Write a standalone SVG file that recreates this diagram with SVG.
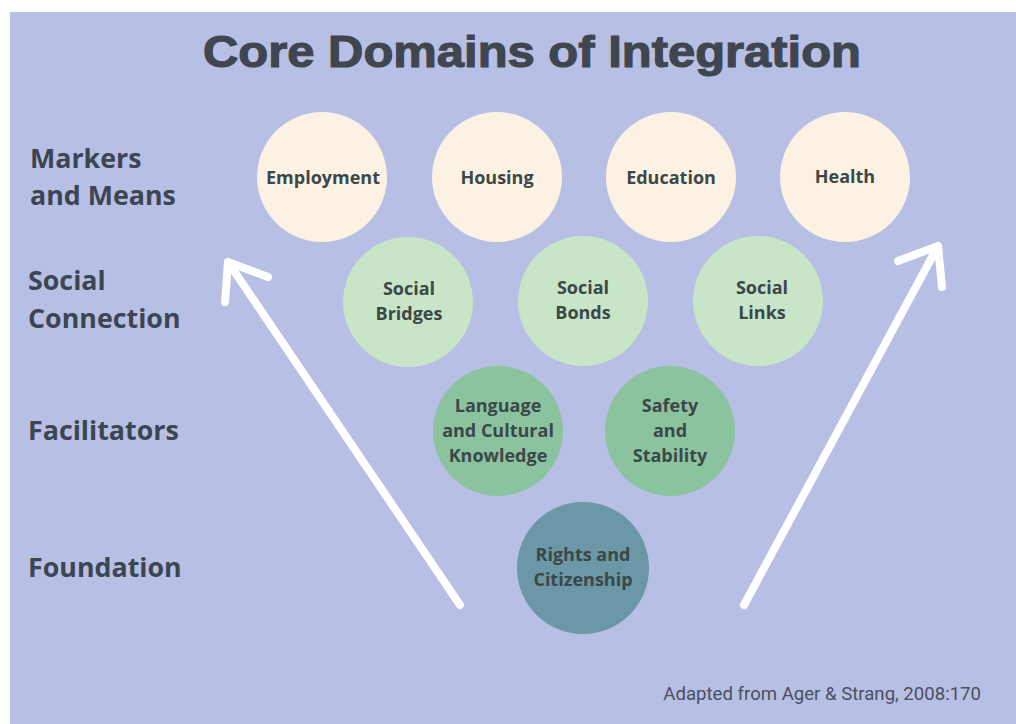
<svg xmlns="http://www.w3.org/2000/svg" width="1016" height="724" viewBox="0 0 1016 724">
  <defs>
    <style>
      .title { font-family: "Liberation Sans", Arial, sans-serif; font-weight: 700; font-size: 45px; fill: #40464f; stroke: #40464f; stroke-width: 1.2px; }
      .row { font-family: "Open Sans", "Noto Sans", sans-serif; font-weight: 700; font-size: 26.8px; fill: #3c4552; }
      .lbl { font-family: "Open Sans", "Noto Sans", sans-serif; font-weight: 700; font-size: 18px; fill: #3b4848; text-anchor: middle; }
      .note { font-family: Roboto, "Liberation Sans", sans-serif; font-size: 18.6px; fill: #4a5060; }
      .marker { fill: #fcf2e3; }
      .social { fill: #c8e5c8; }
      .facil { fill: #8bc39f; }
      .found { fill: #6b97a6; }
      .arrow { fill: none; stroke: #ffffff; stroke-width: 8; stroke-linecap: round; stroke-linejoin: round; }
    </style>
  </defs>

  <!-- page -->
  <rect x="0" y="0" width="1016" height="724" fill="#ffffff"/>
  <rect x="10" y="12" width="1006" height="712" fill="#b8bfe4"/>

  <text class="title" x="532" y="67" text-anchor="middle" textLength="658" lengthAdjust="spacingAndGlyphs">Core Domains of Integration</text>

  <!-- level labels -->
  <g id="level-labels">
    <text class="row" x="30" y="168">Markers</text>
    <text class="row" x="30" y="205">and Means</text>
    <text class="row" x="28" y="290">Social</text>
    <text class="row" x="28" y="328">Connection</text>
    <text class="row" x="28" y="440">Facilitators</text>
    <text class="row" x="28" y="577">Foundation</text>
  </g>

  <!-- upward arrows -->
  <g id="connectors">
    <path class="arrow" d="M460,605 L228,262 M225,302 L228,262 L268,277"/>
    <path class="arrow" d="M744,605 L938,246 M898,261 L938,246 L942,287"/>
  </g>

  <!-- markers and means -->
  <g id="employment">
    <circle class="marker" cx="322" cy="177" r="65"/>
    <text class="lbl" x="323" y="184">Employment</text>
  </g>
  <g id="housing">
    <circle class="marker" cx="497" cy="177" r="65"/>
    <text class="lbl" x="497" y="184">Housing</text>
  </g>
  <g id="education">
    <circle class="marker" cx="671" cy="177" r="65"/>
    <text class="lbl" x="671" y="184">Education</text>
  </g>
  <g id="health">
    <circle class="marker" cx="845" cy="177" r="65"/>
    <text class="lbl" x="845" y="183">Health</text>
  </g>

  <!-- social connection -->
  <g id="social-bridges">
    <circle class="social" cx="408" cy="302" r="65"/>
    <text class="lbl" x="409" y="295">Social</text>
    <text class="lbl" x="409" y="320">Bridges</text>
  </g>
  <g id="social-bonds">
    <circle class="social" cx="583" cy="301" r="65"/>
    <text class="lbl" x="583" y="294">Social</text>
    <text class="lbl" x="583" y="319">Bonds</text>
  </g>
  <g id="social-links">
    <circle class="social" cx="758" cy="301" r="65"/>
    <text class="lbl" x="762" y="294">Social</text>
    <text class="lbl" x="762" y="319">Links</text>
  </g>

  <!-- facilitators -->
  <g id="language-culture">
    <circle class="facil" cx="498" cy="431" r="65"/>
    <text class="lbl" x="498" y="412">Language</text>
    <text class="lbl" x="498" y="437">and Cultural</text>
    <text class="lbl" x="498" y="462">Knowledge</text>
  </g>
  <g id="safety-stability">
    <circle class="facil" cx="670" cy="431" r="65"/>
    <text class="lbl" x="670" y="412">Safety</text>
    <text class="lbl" x="670" y="437">and</text>
    <text class="lbl" x="670" y="462">Stability</text>
  </g>

  <!-- foundation -->
  <g id="rights-citizenship">
    <circle class="found" cx="583" cy="568" r="66"/>
    <text class="lbl" x="583" y="561">Rights and</text>
    <text class="lbl" x="583" y="586">Citizenship</text>
  </g>

  <text class="note" x="981" y="700" text-anchor="end">Adapted from Ager &amp; Strang, 2008:170</text>
</svg>
